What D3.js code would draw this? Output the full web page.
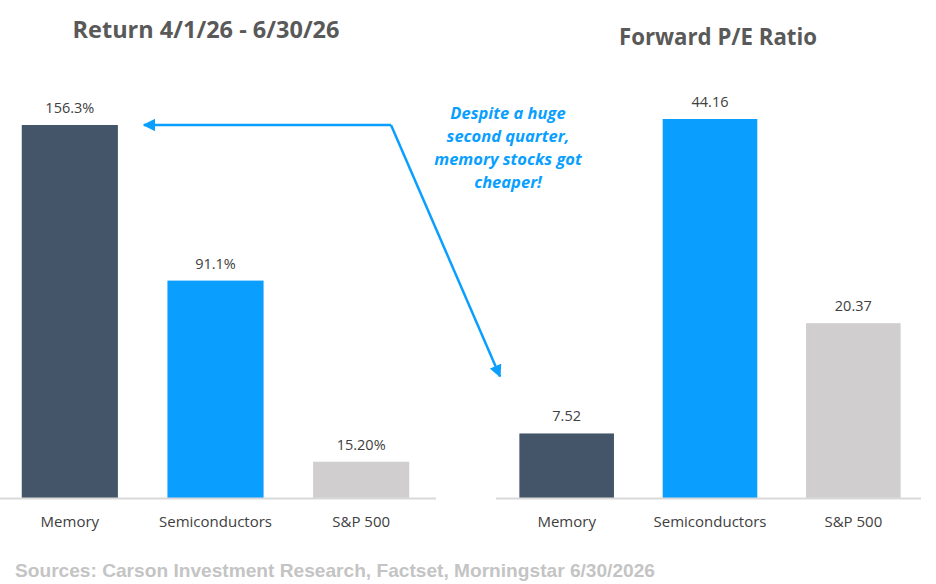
<!DOCTYPE html>
<html>
<head>
<meta charset="utf-8">
<script src="https://cdn.jsdelivr.net/npm/d3@7"></script>
<style>
  body { margin: 0; background: #fff; }
  svg { display: block; }
</style>
</head>
<body>
<div id="chart"></div>
<script>
var categories = ["Memory", "Semiconductors", "S&P 500"];
var returnValues = [156.3, 91.1, 15.20];
var returnLabels = ["156.3%", "91.1%", "15.20%"];
var peValues = [7.52, 44.16, 20.37];
var peLabels = ["7.52", "44.16", "20.37"];
var barColors = ["#445469", "#0A9FFF", "#D0CECE"];
var noteLines = ["Despite a huge", "second quarter,", "memory stocks got", "cheaper!"];

var width = 936, height = 584;
var baseY = 498;

var svg = d3.select("#chart").append("svg")
            .attr("width", width)
            .attr("height", height);

// arrow marker
svg.append("defs").append("marker")
   .attr("id", "head")
   .attr("viewBox", "0 0 10 10")
   .attr("refX", 9).attr("refY", 5)
   .attr("markerWidth", 5).attr("markerHeight", 5)
   .attr("markerUnits", "strokeWidth")
   .attr("orient", "auto")
   .append("path")
   .attr("d", "M0,0 L10,5 L0,10 z")
   .style("fill", "#0A9FFF");

function drawPanel(values, labels, xRange, topY, axisRange, title, titleX, titleY, titleLen) {
  var x = d3.scaleBand().domain(categories).range(xRange).paddingInner(0.34).paddingOuter(0.17);
  var y = d3.scaleLinear().domain([0, d3.max(values)]).range([baseY, topY]);
  var data = categories.map(function (c, i) { return { cat: c, v: values[i], label: labels[i], color: barColors[i] }; });

  var g = svg.append("g");

  g.selectAll("rect").data(data).enter().append("rect")
   .attr("x", function (d) { return x(d.cat); })
   .attr("y", function (d) { return y(d.v); })
   .attr("width", x.bandwidth())
   .attr("height", function (d) { return baseY - y(d.v); })
   .style("fill", function (d) { return d.color; });

  g.selectAll("text.val").data(data).enter().append("text")
   .attr("class", "val")
   .attr("x", function (d) { return x(d.cat) + x.bandwidth() / 2; })
   .attr("y", function (d) { return y(d.v) - 12; })
   .attr("text-anchor", "middle")
   .style("font-family", "'Open Sans', sans-serif")
   .style("font-size", "14.5px")
   .style("fill", "#404040")
   .text(function (d) { return d.label; });

  var axis = g.append("g")
              .attr("transform", "translate(0," + baseY + ")")
              .call(d3.axisBottom(x).tickSize(0).tickPadding(18));
  axis.select(".domain").attr("d", "M" + axisRange[0] + ",0.5H" + axisRange[1])
      .style("stroke", "#D9D9D9").style("stroke-width", 2);
  axis.selectAll("text")
      .style("font-family", "'Open Sans', sans-serif")
      .style("font-size", "15px")
      .style("fill", "#404040");

  svg.append("text")
     .attr("x", titleX).attr("y", titleY)
     .attr("text-anchor", "middle")
     .attr("textLength", titleLen)
     .attr("lengthAdjust", "spacingAndGlyphs")
     .style("font-family", "'Open Sans', sans-serif")
     .style("font-weight", "bold")
     .style("font-size", "22.5px")
     .style("fill", "#595959")
     .text(title);

  return { x: x, y: y };
}

var left = drawPanel(returnValues, returnLabels, [-3, 434], 125, [0, 436], "Return 4/1/26 - 6/30/26", 206, 38, 267);
var right = drawPanel(peValues, peLabels, [495, 925], 119, [496, 921], "Forward P/E Ratio", 718, 45, 198);

// annotation arrows
var cornerX = 391, cornerY = left.y(returnValues[0]);
svg.append("path")
   .attr("d", "M" + cornerX + "," + cornerY + "H" + (left.x("Memory") + left.x.bandwidth() + 26))
   .style("fill", "none").style("stroke", "#0A9FFF").style("stroke-width", 2.5)
   .attr("marker-end", "url(#head)");
svg.append("path")
   .attr("d", "M" + cornerX + "," + cornerY + "L500," + (right.y(peValues[0]) - 57))
   .style("fill", "none").style("stroke", "#0A9FFF").style("stroke-width", 2.5)
   .attr("marker-end", "url(#head)");

svg.append("g").selectAll("text").data(noteLines).enter().append("text")
   .attr("x", 508)
   .attr("y", function (d, i) { return 118.5 + i * 23.3; })
   .attr("text-anchor", "middle")
   .style("font-family", "'Open Sans', sans-serif")
   .style("font-weight", "bold")
   .style("font-style", "italic")
   .style("font-size", "16.5px")
   .style("fill", "#0A9FFF")
   .text(function (d) { return d; });

svg.append("text")
   .attr("x", 15).attr("y", 577)
   .attr("textLength", 640)
   .attr("lengthAdjust", "spacingAndGlyphs")
   .style("font-family", "'Liberation Sans', Arial, sans-serif")
   .style("font-weight", "bold")
   .style("font-size", "19px")
   .style("fill", "#C4C4C4")
   .text("Sources: Carson Investment Research, Factset, Morningstar 6/30/2026");
</script>
</body>
</html>
